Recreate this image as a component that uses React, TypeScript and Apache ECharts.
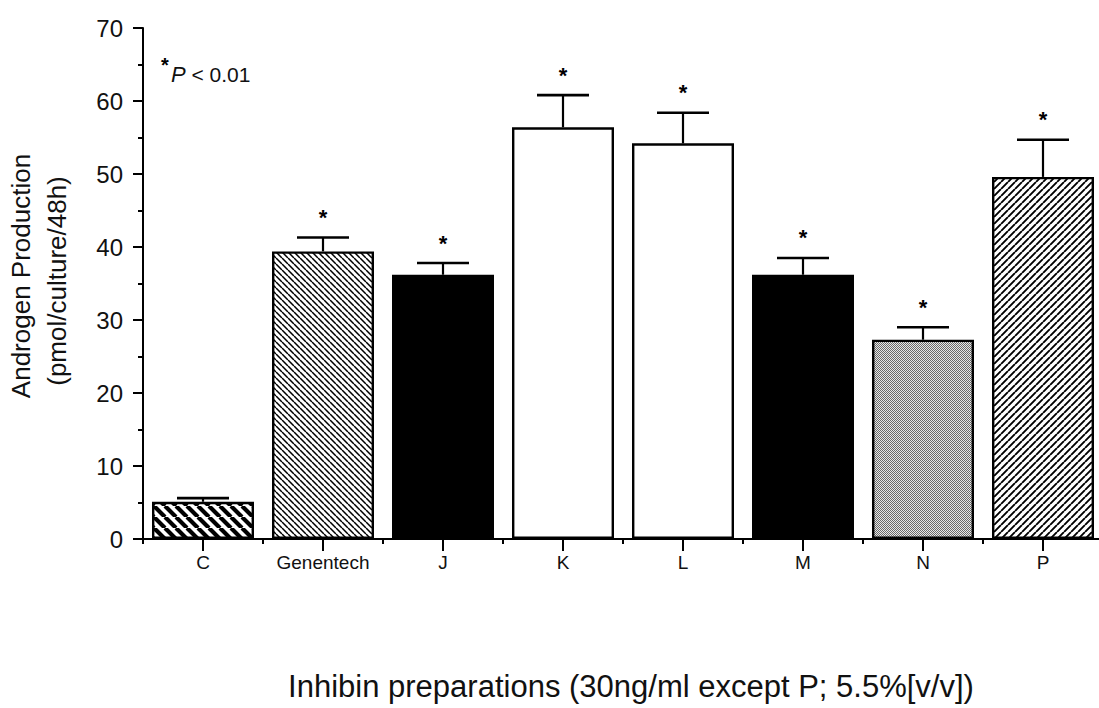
import React, { useEffect, useRef } from "react";
import * as echarts from "echarts";

const categories = ["C", "Genentech", "J", "K", "L", "M", "N", "P"];
const means = [5.1, 39.4, 36.2, 56.4, 54.2, 36.2, 27.3, 49.6];
const errors = [0.5, 1.9, 1.6, 4.4, 4.2, 2.3, 1.7, 5.1];
const significant = [false, true, true, true, true, true, true, true];
const fills = ["boldBack", "thinBack", "black", "white", "white", "black", "dots", "fwd"];
const yTitleLines = ["Androgen Production", "(pmol/culture/48h)"];
const xTitle = "Inhibin preparations (30ng/ml except P; 5.5%[v/v])";

const FONT = "'Liberation Sans', Arial, Helvetica, sans-serif";

function stripes(size: number, lw: number, dir: "back" | "fwd") {
  const c = document.createElement("canvas");
  c.width = size;
  c.height = size;
  const ctx = c.getContext("2d")!;
  ctx.fillStyle = "#fff";
  ctx.fillRect(0, 0, size, size);
  ctx.strokeStyle = "#000";
  ctx.lineWidth = lw;
  ctx.beginPath();
  for (const k of [-1, 0, 1]) {
    if (dir === "back") {
      ctx.moveTo(k * size, 0);
      ctx.lineTo(k * size + size, size);
    } else {
      ctx.moveTo(k * size, size);
      ctx.lineTo(k * size + size, 0);
    }
  }
  ctx.stroke();
  return c;
}

function dots() {
  const c = document.createElement("canvas");
  c.width = 2;
  c.height = 2;
  const ctx = c.getContext("2d")!;
  ctx.fillStyle = "#e8e8e8";
  ctx.fillRect(0, 0, 2, 2);
  ctx.fillStyle = "#6a6a6a";
  ctx.fillRect(0, 0, 1, 1);
  ctx.fillRect(1, 1, 1, 1);
  return c;
}

function fillFor(kind: string): any {
  switch (kind) {
    case "boldBack":
      return { image: stripes(11, 4.2, "back"), repeat: "repeat" };
    case "thinBack":
      return { image: stripes(6, 1.5, "back"), repeat: "repeat" };
    case "fwd":
      return { image: stripes(7, 1.9, "fwd"), repeat: "repeat" };
    case "dots":
      return { image: dots(), repeat: "repeat" };
    case "black":
      return "#000";
    default:
      return "#fff";
  }
}

export default function App() {
  const ref = useRef<HTMLDivElement>(null);
  useEffect(() => {
    if (!ref.current) return;
    const chart = echarts.init(ref.current, null, { renderer: "svg" });
    const axisStyle = { color: "#000", width: 2 };
    chart.setOption({
      animation: false,
      backgroundColor: "#fff",
      grid: { left: 143, right: 7, top: 28, bottom: 169, containLabel: false },
      xAxis: [
        {
          type: "category",
          data: categories,
          position: "bottom",
          boundaryGap: true,
          axisLine: { lineStyle: axisStyle },
          axisTick: { show: true, length: 5, lineStyle: axisStyle },
          axisLabel: { show: false },
          splitLine: { show: false },
        },
        {
          type: "category",
          data: categories,
          position: "bottom",
          boundaryGap: true,
          axisLine: { show: false },
          axisTick: { show: true, alignWithLabel: true, length: 12, lineStyle: axisStyle },
          axisLabel: { show: true, margin: 14, fontSize: 19, color: "#111", fontFamily: FONT, interval: 0 },
          splitLine: { show: false },
        },
      ],
      yAxis: {
        type: "value",
        min: 0,
        max: 70,
        interval: 10,
        axisLine: { show: true, lineStyle: axisStyle },
        axisTick: { show: true, length: 10, lineStyle: axisStyle },
        minorTick: { show: true, splitNumber: 2, length: 5, lineStyle: axisStyle },
        axisLabel: { margin: 20, fontSize: 24, color: "#111", fontFamily: FONT },
        splitLine: { show: false },
      },
      series: [
        {
          type: "bar",
          xAxisIndex: 0,
          barWidth: 102,
          data: means.map((v, i) => ({
            value: v,
            itemStyle: { color: fillFor(fills[i]), borderColor: "#000", borderWidth: 2.4 },
          })),
        },
        {
          type: "custom",
          xAxisIndex: 0,
          z: 5,
          encode: { x: 0, y: 1 },
          data: categories.map((c, i) => [i, means[i], errors[i], significant[i] ? 1 : 0]),
          renderItem: (params: any, api: any) => {
            const i = api.value(0);
            const v = api.value(1);
            const e = api.value(2);
            const s = api.value(3);
            const base = api.coord([i, v]);
            const top = api.coord([i, v + e]);
            const half = 26;
            const children: any[] = [
              {
                type: "line",
                shape: { x1: base[0], y1: base[1], x2: top[0], y2: top[1] },
                style: { stroke: "#000", lineWidth: 2.2 },
              },
              {
                type: "line",
                shape: { x1: top[0] - half, y1: top[1], x2: top[0] + half, y2: top[1] },
                style: { stroke: "#000", lineWidth: 2.6 },
              },
            ];
            if (s) {
              children.push({
                type: "text",
                x: top[0],
                y: top[1] - 20,
                style: {
                  text: "*",
                  fill: "#000",
                  font: `bold 22px ${FONT}`,
                  align: "center",
                  verticalAlign: "middle",
                },
              });
            }
            return { type: "group", children };
          },
        },
      ],
      graphic: [
        {
          type: "text",
          x: 21,
          y: 276,
          rotation: Math.PI / 2,
          style: {
            text: yTitleLines[0],
            fill: "#111",
            font: `26px ${FONT}`,
            align: "center",
            verticalAlign: "middle",
          },
        },
        {
          type: "text",
          x: 57,
          y: 281,
          rotation: Math.PI / 2,
          style: {
            text: yTitleLines[1],
            fill: "#111",
            font: `26px ${FONT}`,
            align: "center",
            verticalAlign: "middle",
          },
        },
        {
          type: "text",
          x: 631,
          y: 686,
          style: {
            text: xTitle,
            fill: "#111",
            font: `31px ${FONT}`,
            align: "center",
            verticalAlign: "middle",
          },
        },
        {
          type: "text",
          x: 165,
          y: 65,
          style: {
            text: "*",
            fill: "#000",
            font: `bold 20px ${FONT}`,
            align: "center",
            verticalAlign: "middle",
          },
        },
        {
          type: "text",
          x: 171,
          y: 74,
          style: {
            text: "{i|P} < 0.01",
            fill: "#111",
            font: `21px ${FONT}`,
            align: "left",
            verticalAlign: "middle",
            rich: {
              i: { fontStyle: "italic", fontSize: 22, fontFamily: FONT, fill: "#111" },
            },
          },
        },
      ],
    });
    return () => chart.dispose();
  }, []);
  return (
    <div style={{ position: "fixed", left: 0, top: 0, width: 1099, height: 708, overflow: "hidden", background: "#fff" }}>
      <div ref={ref} style={{ width: 1110, height: 708 }} />
    </div>
  );
}
